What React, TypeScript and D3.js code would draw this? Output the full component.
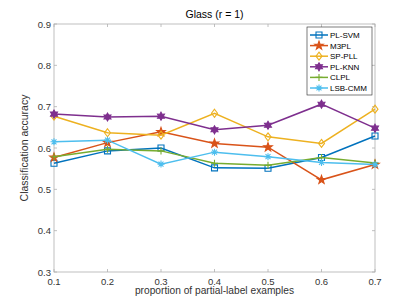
import React, { useEffect, useRef } from 'react';
import * as d3 from 'd3';

const proportions = [0.1, 0.2, 0.3, 0.4, 0.5, 0.6, 0.7];
const seriesNames = ['PL-SVM', 'M3PL', 'SP-PLL', 'PL-KNN', 'CLPL', 'LSB-CMM'];
const plSvm = [0.563, 0.593, 0.6, 0.552, 0.551, 0.577, 0.629];
const m3pl = [0.577, 0.613, 0.639, 0.611, 0.602, 0.523, 0.56];
const spPll = [0.677, 0.637, 0.631, 0.684, 0.627, 0.611, 0.694];
const plKnn = [0.682, 0.675, 0.677, 0.644, 0.655, 0.706, 0.648];
const clpl = [0.579, 0.597, 0.593, 0.563, 0.558, 0.577, 0.564];
const lsbCmm = [0.615, 0.619, 0.561, 0.59, 0.579, 0.565, 0.56];
const xTicks = [0.1, 0.2, 0.3, 0.4, 0.5, 0.6, 0.7];
const yTicks = [0.3, 0.4, 0.5, 0.6, 0.7, 0.8, 0.9];

const colors = ['#0072BD', '#D95319', '#EDB120', '#7E2F8E', '#77AC30', '#4DBEEE'];
const markers = ['square', 'pentagram', 'diamond', 'hexagram', 'plus', 'asterisk'];

function starPath(points: number, outer: number, inner: number) {
  let p = '';
  for (let i = 0; i < points * 2; i++) {
    const r = i % 2 === 0 ? outer : inner;
    const a = -Math.PI / 2 + (i * Math.PI) / points;
    p += (i === 0 ? 'M' : 'L') + (r * Math.cos(a)).toFixed(2) + ',' + (r * Math.sin(a)).toFixed(2);
  }
  return p + 'Z';
}

function markerPath(kind: string) {
  const s = 3;
  if (kind === 'square') return `M${-s},${-s}H${s}V${s}H${-s}Z`;
  if (kind === 'diamond') return `M0,${-s - 1}L${s},0L0,${s + 1}L${-s},0Z`;
  if (kind === 'pentagram') return starPath(5, 4.5, 1.8);
  if (kind === 'hexagram') return starPath(6, 4, 2.3);
  if (kind === 'plus') return `M${-s - 0.5},0H${s + 0.5}M0,${-s - 0.5}V${s + 0.5}`;
  // asterisk
  const r = 3.5;
  const d = r * 0.707;
  return `M${-r},0H${r}M0,${-r}V${r}M${-d},${-d}L${d},${d}M${-d},${d}L${d},${-d}`;
}

export default function App() {
  const ref = useRef<SVGSVGElement>(null);

  useEffect(() => {
    const svg = d3.select(ref.current);
    svg.selectAll('*').remove();
    const width = 415;
    const height = 305;
    const left = 54, right = 375, top = 24, bottom = 272;

    const x = d3.scaleLinear().domain([0.1, 0.7]).range([left, right]);
    const y = d3.scaleLinear().domain([0.3, 0.9]).range([bottom, top]);

    svg.attr('width', width).attr('height', height);
    svg.append('rect').attr('width', width).attr('height', height).attr('fill', '#fff');

    const font = 'Helvetica, Arial, "Liberation Sans", sans-serif';
    const axisColor = '#333';

    // box
    svg.append('rect')
      .attr('x', left).attr('y', top)
      .attr('width', right - left).attr('height', bottom - top)
      .attr('fill', 'none').attr('stroke', '#b0b0b0').attr('stroke-width', 0.8);

    const tickLen = 3;
    xTicks.forEach((t) => {
      svg.append('line').attr('x1', x(t)).attr('x2', x(t)).attr('y1', bottom).attr('y2', bottom - tickLen)
        .attr('stroke', '#b0b0b0').attr('stroke-width', 0.8);
      svg.append('line').attr('x1', x(t)).attr('x2', x(t)).attr('y1', top).attr('y2', top + tickLen)
        .attr('stroke', '#b0b0b0').attr('stroke-width', 0.8);
      svg.append('text').attr('x', x(t)).attr('y', bottom + 12.5)
        .attr('text-anchor', 'middle').attr('font-family', font).attr('font-size', 9.5)
        .attr('fill', axisColor).text(d3.format('.1f')(t));
    });
    yTicks.forEach((t) => {
      svg.append('line').attr('x1', left).attr('x2', left + tickLen).attr('y1', y(t)).attr('y2', y(t))
        .attr('stroke', '#b0b0b0').attr('stroke-width', 0.8);
      svg.append('line').attr('x1', right).attr('x2', right - tickLen).attr('y1', y(t)).attr('y2', y(t))
        .attr('stroke', '#b0b0b0').attr('stroke-width', 0.8);
      svg.append('text').attr('x', left - 3).attr('y', y(t) + 3.5)
        .attr('text-anchor', 'end').attr('font-family', font).attr('font-size', 9.5)
        .attr('fill', axisColor).text(d3.format('.1f')(t));
    });

    svg.append('text').attr('x', (left + right) / 2).attr('y', 18)
      .attr('text-anchor', 'middle').attr('font-family', font).attr('font-size', 10.5)
      .attr('fill', '#000').text('Glass (r = 1)');
    svg.append('text').attr('x', (left + right) / 2).attr('y', 294)
      .attr('text-anchor', 'middle').attr('font-family', font).attr('font-size', 10.2)
      .attr('fill', axisColor).text('proportion of partial-label examples');
    svg.append('text')
      .attr('transform', `translate(28,${(top + bottom) / 2}) rotate(-90)`)
      .attr('text-anchor', 'middle').attr('font-family', font).attr('font-size', 10.5)
      .attr('fill', axisColor).text('Classification accuracy');

    const allSeries = [plSvm, m3pl, spPll, plKnn, clpl, lsbCmm];
    const line = d3.line<number>().x((d, i) => x(proportions[i])).y((d) => y(d));

    allSeries.forEach((vals, si) => {
      const g = svg.append('g');
      g.append('path').attr('d', line(vals)).attr('fill', 'none')
        .attr('stroke', colors[si]).attr('stroke-width', 1.5);
      const filled = markers[si] === 'pentagram' || markers[si] === 'hexagram';
      g.selectAll('.m').data(vals).enter().append('path')
        .attr('class', 'm')
        .attr('transform', (d, i) => `translate(${x(proportions[i])},${y(d)})`)
        .attr('d', markerPath(markers[si]))
        .attr('fill', filled ? colors[si] : 'none')
        .attr('stroke', colors[si]).attr('stroke-width', 1.1);
    });

    // legend
    const lx = 307, ly = 27, lw = 65, lh = 68;
    svg.append('rect').attr('x', lx).attr('y', ly).attr('width', lw).attr('height', lh)
      .attr('fill', '#fff').attr('stroke', '#262626').attr('stroke-width', 0.6);
    seriesNames.forEach((name, i) => {
      const yy = ly + 8 + i * 10.6;
      const g = svg.append('g');
      g.append('line').attr('x1', lx + 3).attr('x2', lx + 21).attr('y1', yy).attr('y2', yy)
        .attr('stroke', colors[i]).attr('stroke-width', 1.5);
      const filled = markers[i] === 'pentagram' || markers[i] === 'hexagram';
      g.append('path').attr('transform', `translate(${lx + 12},${yy})`)
        .attr('d', markerPath(markers[i]))
        .attr('fill', filled ? colors[i] : 'none')
        .attr('stroke', colors[i]).attr('stroke-width', 1.1);
      g.append('text').attr('x', lx + 23).attr('y', yy + 3)
        .attr('font-family', font).attr('font-size', 8).attr('fill', '#000').text(name);
    });
  }, []);

  return <svg ref={ref} style={{ display: 'block', position: 'absolute', left: 0, top: 0 }} />;
}
